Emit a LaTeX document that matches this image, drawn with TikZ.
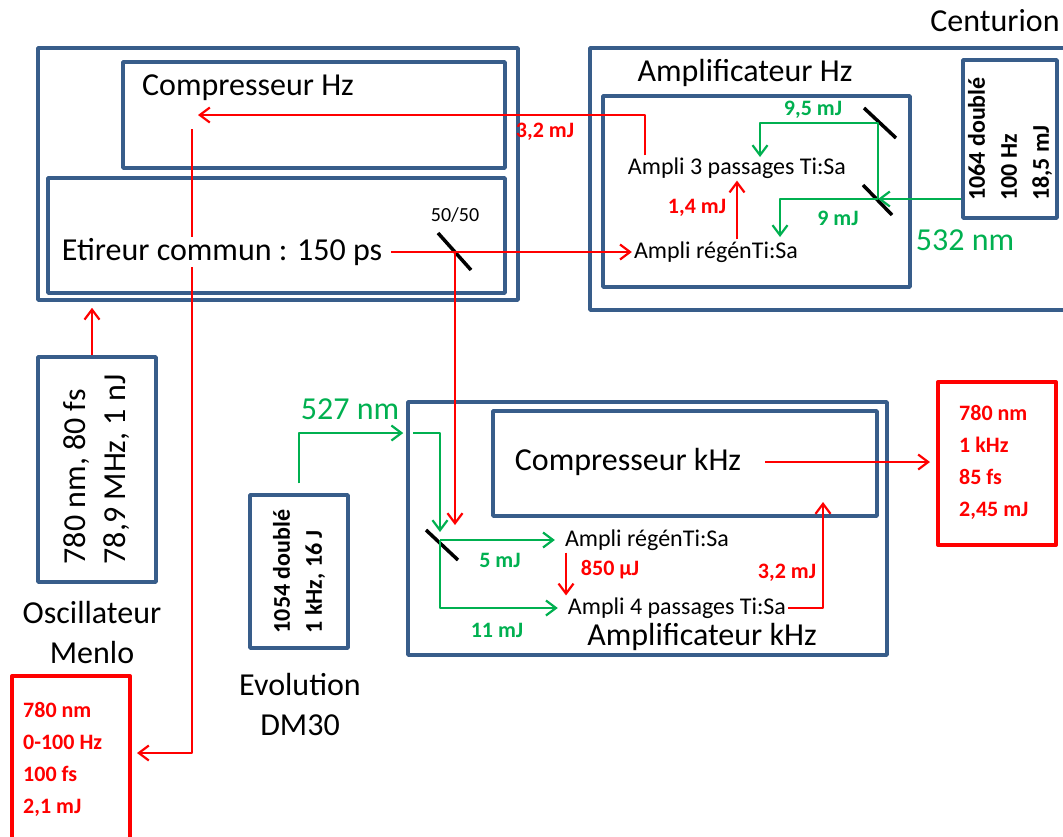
\documentclass[tikz,border=0pt]{standalone}
\usepackage{fontspec}
\setmainfont{Carlito}
\usetikzlibrary{arrows.meta}

\definecolor{bleucadre}{RGB}{56,93,138}
\definecolor{vertfais}{RGB}{0,176,80}
\definecolor{rougefais}{RGB}{255,0,0}

\tikzset{
  cadre/.style={draw=bleucadre, line width=3.5pt, inner sep=0pt},
  cadrerouge/.style={draw=rougefais, line width=4pt, inner sep=0pt},
  grand/.style={font=\fontsize{32}{40}\selectfont, inner sep=2pt},
  moyen/.style={font=\fontsize{24}{28}\selectfont, inner sep=2pt},
  valeur/.style={font=\bfseries\fontsize{22}{32}\selectfont, inner sep=1pt},
  fais/.style={line width=2.2pt, -{Straight Barb[length=10pt,width=15pt]}},
  rouge/.style={fais, draw=rougefais},
  vert/.style={fais, draw=vertfais},
  miroir/.style={line width=3.5pt, black},
}

\begin{document}
\begin{tikzpicture}[x=1pt, y=-1pt, line join=round]
\useasboundingbox (0,0) rectangle (1063,836);
\clip (0,0) rectangle (1063,836);

% cadres
\node[cadre, minimum width=480, minimum height=252] (hz) at (278,174) {};
\node[cadre, minimum width=382, minimum height=106] (comphz) at (314,115) {};
\node[cadre, minimum width=457, minimum height=115] (etir) at (276.5,235.5) {};
\node[cadre, minimum width=485, minimum height=262] (cent) at (832.5,179) {};
\node[cadre, minimum width=307, minimum height=191] (amphz) at (756.5,191.5) {};
\node[cadre, minimum width=94, minimum height=158] (pompehz) at (1010,139) {};
\node[cadre, minimum width=118, minimum height=225] (menlo) at (97,469.5) {};
\node[cadre, minimum width=479, minimum height=253] (khz) at (647.5,528.5) {};
\node[cadre, minimum width=384, minimum height=105] (compkhz) at (685,463.5) {};
\node[cadre, minimum width=98, minimum height=153] (evol) at (299,571.5) {};
\node[cadrerouge, minimum width=118, minimum height=200] (sortiehz) at (71,776) {};
\node[cadrerouge, minimum width=118, minimum height=163] (sortiekhz) at (997,463.5) {};

% miroirs et points de passage
\coordinate (bs1) at (455,252);
\coordinate (injkhz) at (455,525);
\coordinate (bs3) at (878,199);
\coordinate (m1) at (878,123);
\coordinate (vers3) at (760,157);
\coordinate (versregen) at (780,237);
\coordinate (entcomphz) at (198,115);
\coordinate (sortcomphz) at (192,121);
\coordinate (retourhz) at (192,753);
\coordinate (coudekhz) at (440,433);
\coordinate (bs2) at (440,540);
\coordinate (entcompkhz) at (823,502);

\draw[miroir] (bs1) +(-17,-19) -- +(16,18);
\draw[miroir] (m1) +(-14,-15) -- +(18,15);
\draw[miroir] (bs3) +(-15,-14) -- +(14,16);
\draw[miroir] (bs2) +(-14,-10) -- +(18,20);

% textes
\node[grand] (centtxt) at (995,21) {Centurion};
\node[grand] (amphztxt) at (745,73) {Amplificateur Hz};
\node[grand] (comphztxt) at (248,88) {Compresseur Hz};
\node[moyen] (trois) at (737,168) {Ampli 3 passages Ti:Sa};
\node[moyen] (regenhz) at (716,252) {Ampli régénTi:Sa};
\node[font=\fontsize{20}{22}\selectfont] (cinquante) at (455,215) {50/50};
\node[grand, rotate=90, align=left, font=\bfseries\fontsize{24}{32}\selectfont] (pompehztxt) at (pompehz) {1064 doublé\\100 Hz\\18,5 mJ};
\node[grand, text=vertfais] (l532) at (965,240) {532 nm};
\node[grand, rotate=90, align=left] (menlotxt) at (menlo) {780 nm, 80 fs\\78,9 MHz, 1 nJ};
\node[grand, align=center] (menlonom) at (92,632) {Oscillateur\\Menlo};
\node[valeur, text=rougefais, align=left, anchor=west] (sortiehztxt) at (22,759) {780 nm\\0-100 Hz\\100 fs\\2,1 mJ};
\node[grand, text=vertfais] (l527) at (350,409) {527 nm};
\node[grand, rotate=90, align=left, font=\bfseries\fontsize{24}{32}\selectfont] (evoltxt) at (evol) {1054 doublé\\1 kHz, 16 J};
\node[grand, align=center] (evolnom) at (300,704) {Evolution\\DM30};
\node[grand] (compkhztxt) at (628,462) {Compresseur kHz};
\node[moyen] (regenkhz) at (647,540) {Ampli régénTi:Sa};
\node[moyen] (quatre) at (677,608) {Ampli 4 passages Ti:Sa};
\node[grand] (ampkhztxt) at (702,637) {Amplificateur kHz};
\node[valeur, text=rougefais, align=left, anchor=west] (sortiekhztxt) at (958,462) {780 nm\\1 kHz\\85 fs\\2,45 mJ};

% faisceaux rouges
\draw[rouge, shorten <=8pt] (sortcomphz) -- (retourhz) -- ([xshift=5pt]retourhz -| sortiehz.east);
\node[grand, fill=white, inner sep=1pt] (etirtxt) at (222,252) {Etireur commun : 150 ps};
\draw[rouge, shorten <=8pt] (etirtxt.east) -- (regenhz.west);
\draw[rouge] (bs1) -- (injkhz);
\draw[rouge] (regenhz.north -| trois) -- (trois.south);
\draw[rouge] (trois.north -| 645,0) |- (entcomphz);
\draw[rouge, shorten >=6pt] ([xshift=-5pt]menlo.north) -- ([xshift=-5pt]menlo.north |- hz.south);
\draw[rouge] (regenkhz.south -| 566,0) -- (quatre.north -| 566,0);
\draw[rouge] (quatre.east) -| (entcompkhz);
\draw[rouge, shorten <=22pt, shorten >=6pt] (compkhztxt.east) -- (compkhztxt.east -| sortiekhz.west);

% faisceaux verts
\draw[vert] (pompehz.west |- bs3) -- (bs3);
\draw[vert] (bs3) -- (m1) -| (vers3);
\draw[vert] (bs3) -| (versregen);
\draw[vert, shorten >=3pt] ([yshift=10pt]evol.north) |- (khz.west |- coudekhz);
\draw[vert] ([xshift=7pt]khz.west |- coudekhz) -- (coudekhz) -- ([yshift=8pt]bs2);
\draw[vert] (bs2) -- ([xshift=-8pt]regenkhz.west);
\draw[vert] (bs2) |- ([xshift=-8pt]quatre.west);

% valeurs
\node[valeur, text=rougefais] (v32hz) at (545,132) {3,2 mJ};
\node[valeur, text=rougefais] (v14) at (697,208) {1,4 mJ};
\node[valeur, text=vertfais] (v95) at (813,110) {9,5 mJ};
\node[valeur, text=vertfais] (v9) at (838,218) {9 mJ};
\node[valeur, text=vertfais] (v5) at (500,560) {5 mJ};
\node[valeur, text=vertfais] (v11) at (497,630) {11 mJ};
\node[valeur, text=rougefais] (v850) at (610,570) {850 µJ};
\node[valeur, text=rougefais] (v32khz) at (787,573) {3,2 mJ};
\end{tikzpicture}
\end{document}
